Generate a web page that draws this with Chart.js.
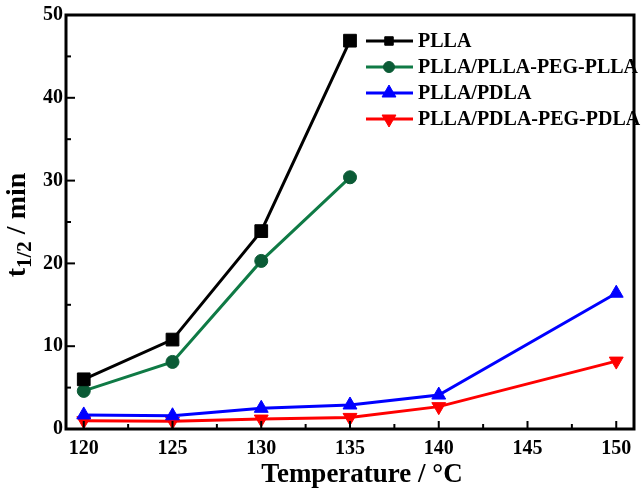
<!DOCTYPE html>
<html lang="en">
<head>
<meta charset="UTF-8">
<title>t1/2 vs Temperature</title>
<style>
  body { margin: 0; background: #fff; }
  #wrap { width: 644px; height: 490px; }
</style>
</head>
<body>
<div id="wrap"><canvas id="myChart" width="644" height="490"></canvas></div>
<script src="https://cdn.jsdelivr.net/npm/chart.js"></script>
<script>
// data
var temps = [120, 125, 130, 135, 140, 150];
var plla = [6.0, 10.8, 23.9, 46.9];
var pllaPeg = [4.6, 8.1, 20.3, 30.4];
var pdla = [1.7, 1.6, 2.5, 2.9, 4.1, 16.4];
var pdlaPeg = [1.0, 0.95, 1.2, 1.4, 2.7, 8.2];
var seriesNames = ['PLLA', 'PLLA/PLLA-PEG-PLLA', 'PLLA/PDLA', 'PLLA/PDLA-PEG-PDLA'];
var xTicks = [120, 125, 130, 135, 140, 145, 150];
var yTicks = [0, 10, 20, 30, 40, 50];

var FONT = '"Liberation Serif", "Times New Roman", serif';

function pts(vals) {
    var out = [];
    for (var i = 0; i < vals.length; i++) out.push({ x: temps[i], y: vals[i] });
    return out;
}

function ds(label, vals, line, fill, style, radius, legendRadius) {
    return {
        label: label,
        data: pts(vals),
        borderColor: line,
        backgroundColor: fill,
        pointBackgroundColor: fill,
        pointBorderColor: fill,
        pointStyle: style,
        pointRadius: radius,
        legendRadius: legendRadius,
        pointBorderWidth: 1,
        borderWidth: 3,
        tension: 0
    };
}

var datasets = [
    ds(seriesNames[0], plla, '#000000', '#000000', 'rect', 9, 6),
    ds(seriesNames[1], pllaPeg, '#0f7a45', '#0b5b36', 'circle', 6.5, 5.5),
    ds(seriesNames[2], pdla, '#0000ff', '#0000ff', 'triangle', 8, 8),
    ds(seriesNames[3], pdlaPeg, '#ff0000', '#ff0000', 'triangle', 8, 8)
];
datasets[3].pointRotation = 180;

// frame, inward ticks, titles and legend
var decor = {
    id: 'decor',
    afterDraw: function (chart) {
        var c = chart.ctx, a = chart.chartArea;
        var xs = chart.scales.x, ys = chart.scales.y;
        c.save();
        c.strokeStyle = '#000';
        c.lineWidth = 2;
        var v, p;
        for (v = 120; v <= 150; v += 2.5) {
            p = xs.getPixelForValue(v);
            c.beginPath();
            c.moveTo(p, a.bottom);
            c.lineTo(p, a.bottom - (v % 5 === 0 ? 8 : 5));
            c.stroke();
        }
        for (v = 0; v <= 50; v += 5) {
            p = ys.getPixelForValue(v);
            c.beginPath();
            c.moveTo(a.left, p);
            c.lineTo(a.left + (v % 10 === 0 ? 9 : 5), p);
            c.stroke();
        }
        c.lineWidth = 3;
        c.strokeRect(a.left, a.top, a.right - a.left, a.bottom - a.top);

        // x title
        c.fillStyle = '#000';
        c.font = 'bold 27px ' + FONT;
        c.textAlign = 'center';
        c.textBaseline = 'alphabetic';
        c.fillText('Temperature / \u00b0C', 362, 482);

        // y title with subscript
        c.save();
        c.translate(25, 225);
        c.rotate(-Math.PI / 2);
        c.textAlign = 'left';
        var f1 = 'bold 28px ' + FONT, f2 = 'bold 21px ' + FONT;
        c.font = f1;
        var w1 = c.measureText('t').width, w3 = c.measureText(' / min').width;
        c.font = f2;
        var w2 = c.measureText('1/2').width;
        var x0 = -(w1 + w2 + w3) / 2;
        c.font = f1;
        c.fillText('t', x0, 0);
        c.font = f2;
        c.fillText('1/2', x0 + w1, 6);
        c.font = f1;
        c.fillText(' / min', x0 + w1 + w2, 0);
        c.restore();

        // legend
        c.font = 'bold 20px ' + FONT;
        c.textAlign = 'left';
        c.textBaseline = 'middle';
        for (var i = 0; i < chart.data.datasets.length; i++) {
            var d = chart.data.datasets[i];
            var yy = 41 + i * 26;
            c.strokeStyle = d.borderColor;
            c.lineWidth = 3;
            c.beginPath();
            c.moveTo(366, yy);
            c.lineTo(413, yy);
            c.stroke();
            c.fillStyle = d.pointBackgroundColor;
            c.strokeStyle = d.pointBorderColor;
            c.lineWidth = 1;
            Chart.helpers.drawPoint(c, {
                pointStyle: d.pointStyle,
                radius: d.legendRadius,
                rotation: d.pointRotation || 0,
                borderWidth: 1
            }, 389, yy);
            c.fillStyle = '#000';
            c.fillText(d.label, 418, yy + 1);
        }
        c.restore();
    }
};

new Chart(document.getElementById('myChart').getContext('2d'), {
    type: 'line',
    data: { datasets: datasets },
    options: {
        responsive: false,
        animation: false,
        layout: { padding: { top: 7, right: 6, left: 0, bottom: 0 } },
        scales: {
            x: {
                type: 'linear',
                min: 119,
                max: 151,
                afterBuildTicks: function (s) { s.ticks = xTicks.map(function (t) { return { value: t }; }); },
                afterFit: function (s) { s.height = 61; },
                grid: { display: false, drawTicks: false },
                border: { display: false },
                ticks: { color: '#000', padding: 8, font: { family: FONT, size: 20, weight: 'bold' } }
            },
            y: {
                min: 0,
                max: 50,
                afterBuildTicks: function (s) { s.ticks = yTicks.map(function (t) { return { value: t }; }); },
                afterFit: function (s) { s.width = 66; },
                grid: { display: false, drawTicks: false },
                border: { display: false },
                ticks: { color: '#000', padding: 3, font: { family: FONT, size: 20, weight: 'bold' } }
            }
        },
        plugins: {
            legend: { display: false },
            tooltip: { enabled: false }
        }
    },
    plugins: [decor]
});
</script>
</body>
</html>
